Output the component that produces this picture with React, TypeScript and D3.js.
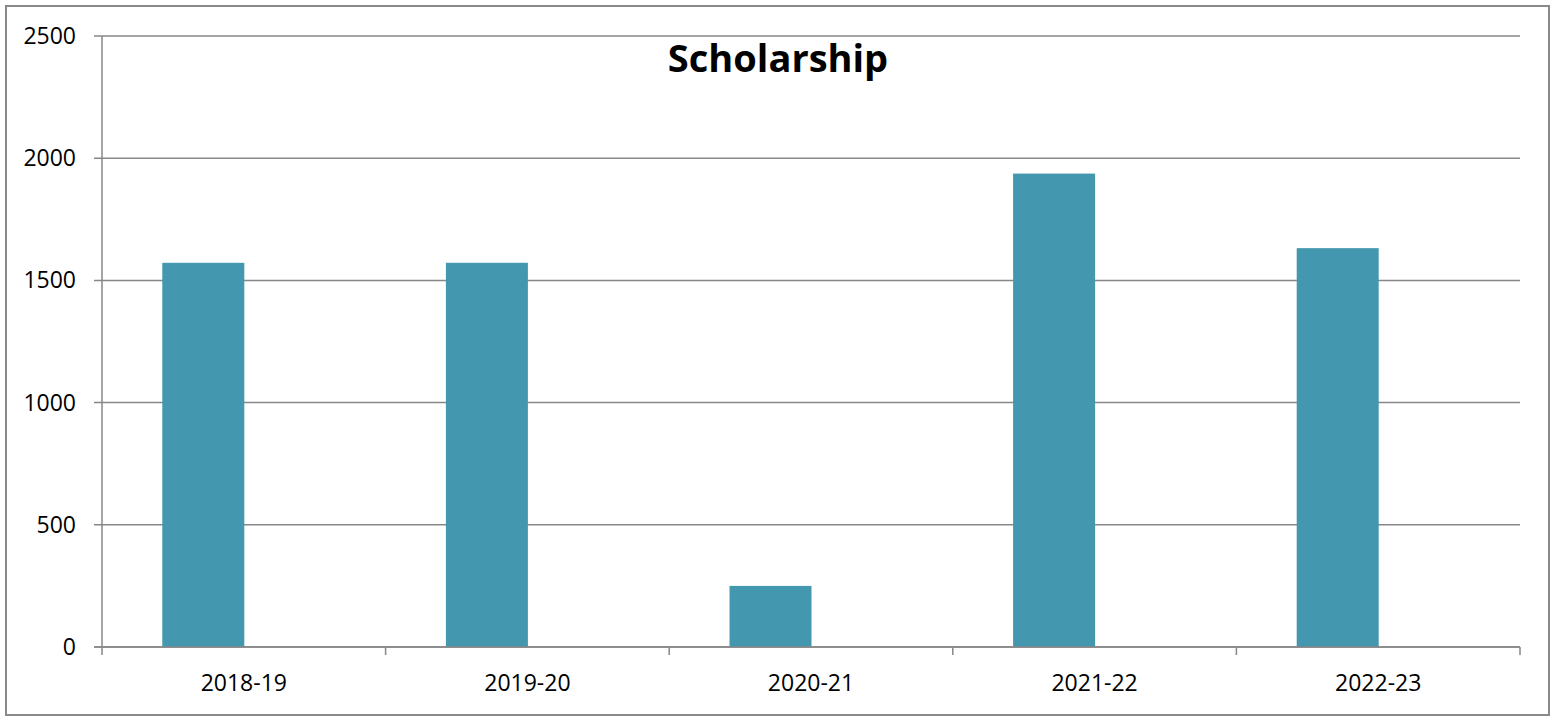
import { useEffect } from 'react';
import * as d3 from 'd3';

const categories = ['2018-19', '2019-20', '2020-21', '2021-22', '2022-23'];
const scholarship = [1572, 1572, 250, 1937, 1632];
// Excel-style clustered layout: a second (empty) series slot sits beside each bar
const seriesSlots = ['Scholarship', ''];
const yTicks = [0, 500, 1000, 1500, 2000, 2500];
const title = 'Scholarship';

const W = 1552;
const H = 720;
const margin = { top: 36, right: 32, bottom: 73, left: 102 };
const gridColor = '#878787';
const barColor = '#4398B0';
const font = '"Open Sans", "Liberation Sans", sans-serif';

export default function App() {
  useEffect(() => {
    document.body.style.margin = '0';
  }, []);

  const innerW = W - margin.left - margin.right;
  const innerH = H - margin.top - margin.bottom;

  const x = d3.scaleBand<string>().domain(categories).range([0, innerW]).paddingInner(0).paddingOuter(0);
  // gap width ~146% of bar width => each category = gap + 2 bars
  const gapFrac = 119.6 / 283.6;
  const x1 = d3
    .scaleBand<string>()
    .domain(seriesSlots)
    .range([x.bandwidth() * gapFrac / 2, x.bandwidth() * (1 - gapFrac / 2)]);
  const y = d3.scaleLinear().domain([0, 2500]).range([innerH, 0]);

  const boundaries = [...categories.map((c) => x(c) as number), innerW];

  return (
    <svg width={W} height={H} style={{ display: 'block' }}>
      <rect x={6} y={6} width={1543} height={709} fill="#fff" stroke="#898989" strokeWidth={2} />
      <g transform={`translate(${margin.left},${margin.top})`}>
        {/* horizontal gridlines incl. left tick marks */}
        {yTicks.map((t) => (
          <line key={t} x1={-8} x2={innerW} y1={y(t)} y2={y(t)} stroke={gridColor} strokeWidth={1.5} />
        ))}
        {/* bars */}
        {categories.map((c, i) => (
          <rect
            key={c}
            x={(x(c) as number) + (x1(seriesSlots[0]) as number) + 0.5}
            y={y(scholarship[i])}
            width={x1.bandwidth()}
            height={innerH - y(scholarship[i])}
            fill={barColor}
          />
        ))}
        {/* axes */}
        <line x1={0} x2={0} y1={0} y2={innerH} stroke={gridColor} strokeWidth={1.5} />
        <line x1={-8} x2={innerW} y1={innerH} y2={innerH} stroke={gridColor} strokeWidth={1.5} />
        {boundaries.map((b, i) => (
          <line key={i} x1={b} x2={b} y1={innerH} y2={innerH + 8} stroke={gridColor} strokeWidth={1.5} />
        ))}
        {/* y labels */}
        {yTicks.map((t) => (
          <text
            key={t}
            x={-26}
            y={y(t)}
            dy="0.35em"
            textAnchor="end"
            fontFamily={font}
            fontSize={23}
            fill="#000"
          >
            {t}
          </text>
        ))}
        {/* x labels */}
        {categories.map((c) => (
          <text
            key={c}
            x={(x(c) as number) + x.bandwidth() / 2}
            y={innerH + 44}
            textAnchor="middle"
            fontFamily={font}
            fontSize={23}
            fill="#000"
          >
            {c}
          </text>
        ))}
      </g>
      <text x={778} y={72} textAnchor="middle" fontFamily={font} fontWeight="bold" fontSize={38} fill="#000">
        {title}
      </text>
    </svg>
  );
}
